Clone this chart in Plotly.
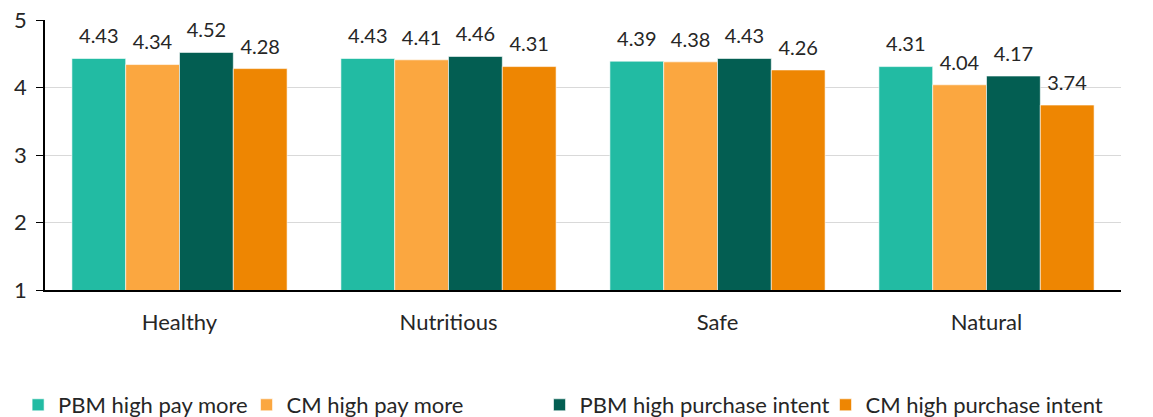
import plotly.graph_objects as go

categories = ["Healthy", "Nutritious", "Safe", "Natural"]
series_names = ["PBM high pay more", "CM high pay more", "PBM high purchase intent", "CM high purchase intent"]
pbm_pay = [4.43, 4.43, 4.39, 4.31]
cm_pay = [4.34, 4.41, 4.38, 4.04]
pbm_intent = [4.52, 4.46, 4.43, 4.17]
cm_intent = [4.28, 4.31, 4.26, 3.74]
y_ticks = [1, 2, 3, 4, 5]

colors = ["#22BBA3", "#FBA740", "#035E52", "#EE8602"]
values = [pbm_pay, cm_pay, pbm_intent, cm_intent]
legend_names = ["legend", "legend2", "legend3", "legend4"]
legend_x = [-0.025, 0.1873, 0.4596, 0.7254]
LABEL_GAP = 0.12  # spacing (data units) between bar top and its value label

FONT = "Lato"
TXT = "#262626"
fig = go.Figure()
for i, (name, vals, col, lg) in enumerate(zip(series_names, values, colors, legend_names)):
    fig.add_trace(go.Bar(
        x=categories, y=vals, name=name, offsetgroup=str(i),
        marker=dict(color=col, line=dict(color="white", width=0.6)),
        legend=lg, hovertemplate="%{x}: %{y:.2f}<extra>" + name + "</extra>",
    ))
for i, vals in enumerate(values):
    fig.add_trace(go.Bar(
        x=categories, y=[LABEL_GAP] * len(vals), base=vals, offsetgroup=str(i),
        marker=dict(color="rgba(0,0,0,0)", line=dict(width=0)),
        text=[f"{v:.2f}" for v in vals], textposition="outside",
        textfont=dict(size=20, color=TXT, family=FONT),
        cliponaxis=False, showlegend=False, hoverinfo="skip",
    ))

layout_legends = {}
for lg, lx in zip(legend_names, legend_x):
    layout_legends[lg] = dict(
        x=lx, y=1 - 405 / 417, yref="container", xanchor="left", yanchor="middle",
        orientation="h",
        font=dict(size=22, color=TXT, family=FONT),
        bgcolor="rgba(0,0,0,0)", itemwidth=30,
    )

fig.update_layout(
    width=1153, height=417,
    margin=dict(l=45, r=32, t=20, b=127),
    paper_bgcolor="white", plot_bgcolor="white",
    barmode="group", bargap=0.2, bargroupgap=0,
    font=dict(family=FONT, color=TXT),
    showlegend=True,
    **layout_legends,
)
fig.update_yaxes(
    range=[1, 5], tickvals=y_ticks, showgrid=True, gridcolor="#D9D9D9", gridwidth=1,
    showline=True, linecolor="black", linewidth=1.5, ticks="outside", ticklen=7,
    tickcolor="black", tickfont=dict(size=22, color=TXT, family=FONT),
    ticklabelstandoff=5, zeroline=False, automargin=False,
)
fig.update_xaxes(
    showline=True, linecolor="black", linewidth=1.5, ticks="",
    tickfont=dict(size=22, color=TXT, family=FONT), ticklabelstandoff=12,
    automargin=False,
)
fig.write_html("out.html")
